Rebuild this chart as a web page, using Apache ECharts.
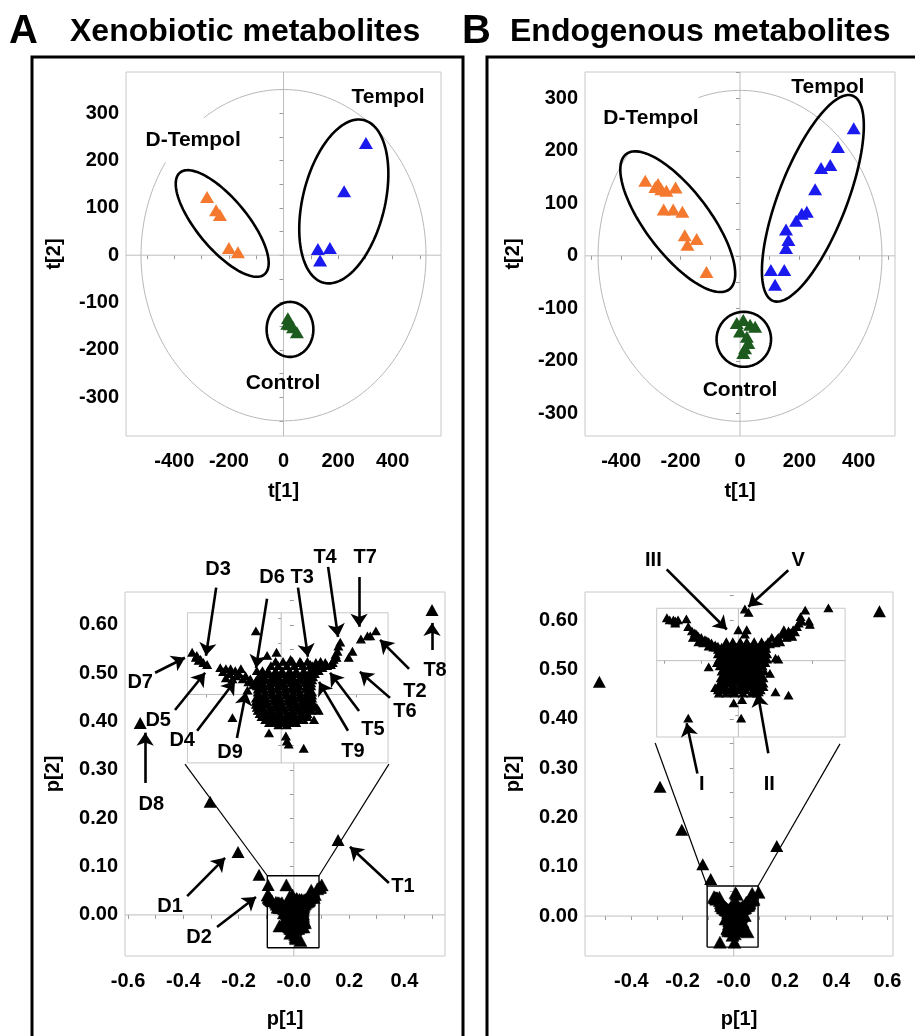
<!DOCTYPE html>
<html><head><meta charset="utf-8">
<script src="https://cdn.jsdelivr.net/npm/echarts@6/dist/echarts.min.js"></script>
<style>html,body{margin:0;padding:0;background:#fff}#c{width:915px;height:1036px}</style>
</head><body><div id="c"></div>
<script>
// ---------------- DATA ----------------
// Scores plots (t[1], t[2])
const SCORES_A_DTEMPOL = [[-280,123],[-247,95],[-233,85],[-200,15],[-167,6]];
const SCORES_A_TEMPOL  = [[302,237],[222,135],[126,13],[170,15],[134,-11]];
const SCORES_A_CONTROL = [[16,-133],[14,-145],[24,-146],[35,-152],[49,-163]];
const SCORES_B_DTEMPOL = [[-319,143],[-285,131],[-276,137],[-265,127],[-248,124],[-217,130],[-257,88],[-225,88],[-194,84],[-186,39],[-146,32],[-177,21],[-113,-31]];
const SCORES_B_TEMPOL  = [[383,243],[330,207],[304,173],[273,167],[253,127],[225,84],[208,80],[189,67],[155,50],[163,30],[155,15],[104,-27],[149,-27],[118,-55]];
const SCORES_B_CONTROL = [[-11,-128],[11,-122],[34,-131],[51,-135],[0,-144],[23,-154],[28,-166],[17,-176],[11,-185]];

// Loadings plots (p[1], p[2]) : outlying variables
const LOAD_A_OUTLIERS = [[-0.556,0.397],[0.500,0.631],[-0.303,0.234],[-0.202,0.130],[-0.126,0.083],[-0.093,0.062],[0.160,0.155]];
const LOAD_B_OUTLIERS = [[-0.525,0.475],[0.569,0.618],[-0.288,0.262],[-0.203,0.175],[-0.121,0.105],[-0.090,0.075],[0.168,0.142]];

// Loadings plots : central cluster (shown both in the main plot and magnified in the inset)
const LOAD_A_CLUSTER = [
[-0.006,0.032],[0.002,0.032],[0.012,0.032],[0.020,0.032],[0.028,0.032],
[-0.011,0.028],[-0.003,0.028],[0.006,0.028],[0.014,0.028],[0.023,0.028],[0.033,0.028],
[-0.020,0.023],[-0.014,0.023],[-0.006,0.023],[0.001,0.023],[0.009,0.023],[0.016,0.023],[0.024,0.023],[0.031,0.023],[0.040,0.023],
[-0.022,0.020],[-0.014,0.020],[-0.007,0.020],[0.001,0.020],[0.008,0.020],[0.016,0.020],[0.023,0.020],[0.031,0.020],[0.036,0.020],
[-0.024,0.017],[-0.018,0.017],[-0.010,0.017],[-0.003,0.017],[0.005,0.017],[0.012,0.017],[0.020,0.017],[0.027,0.017],[0.034,0.017],
[-0.025,0.014],[-0.017,0.014],[-0.010,0.014],[-0.002,0.014],[0.005,0.014],[0.013,0.014],[0.020,0.014],[0.028,0.014],[0.033,0.014],
[-0.026,0.011],[-0.020,0.011],[-0.012,0.011],[-0.005,0.011],[0.002,0.011],[0.010,0.011],[0.017,0.011],[0.025,0.011],[0.032,0.011],
[-0.026,0.008],[-0.018,0.008],[-0.011,0.008],[-0.003,0.008],[0.004,0.008],[0.012,0.008],[0.019,0.008],[0.027,0.008],[0.032,0.008],
[-0.025,0.005],[-0.019,0.005],[-0.011,0.005],[-0.004,0.005],[0.004,0.005],[0.011,0.005],[0.018,0.005],[0.026,0.005],[0.031,0.005],
[-0.025,0.002],[-0.017,0.002],[-0.010,0.002],[-0.002,0.002],[0.005,0.002],[0.013,0.002],[0.020,0.002],[0.028,0.002],[0.033,0.002],
[-0.024,-0.001],[-0.018,-0.001],[-0.010,-0.001],[-0.003,-0.001],[0.005,-0.001],[0.012,-0.001],[0.020,-0.001],[0.027,-0.001],[0.033,-0.001],
[-0.027,-0.004],[-0.023,-0.004],[-0.016,-0.004],[-0.008,-0.004],[-0.001,-0.004],[0.007,-0.004],[0.014,-0.004],[0.021,-0.004],[0.027,-0.004],[0.033,-0.004],
[-0.027,-0.007],[-0.022,-0.007],[-0.016,-0.007],[-0.008,-0.007],[-0.001,-0.007],[0.007,-0.007],[0.014,-0.007],[0.022,-0.007],[0.027,-0.007],[0.033,-0.007],
[-0.027,-0.010],[-0.021,-0.010],[-0.014,-0.010],[-0.006,-0.010],[0.001,-0.010],[0.009,-0.010],[0.016,-0.010],[0.023,-0.010],[0.030,-0.010],[0.034,-0.010],
[-0.026,-0.013],[-0.020,-0.013],[-0.012,-0.013],[-0.005,-0.013],[0.002,-0.013],[0.010,-0.013],[0.017,-0.013],[0.024,-0.013],
[-0.025,-0.016],[-0.018,-0.016],[-0.011,-0.016],[-0.003,-0.016],[0.004,-0.016],[0.012,-0.016],[0.019,-0.016],[0.026,-0.016],[0.032,-0.016],
[-0.023,-0.019],[-0.017,-0.019],[-0.009,-0.019],[-0.002,-0.019],[0.006,-0.019],[0.013,-0.019],[0.021,-0.019],[0.028,-0.019],
[-0.021,-0.022],[-0.014,-0.022],[-0.007,-0.022],[0.000,-0.022],[0.008,-0.022],[0.015,-0.022],[0.022,-0.022],[0.028,-0.022],
[-0.017,-0.025],[-0.011,-0.025],[-0.004,-0.025],[0.004,-0.025],[0.011,-0.025],[0.018,-0.025],[0.024,-0.025],
[-0.013,-0.028],[-0.007,-0.028],[0.001,-0.028],[0.009,-0.028],[0.016,-0.028],[-0.003,-0.030],[0.006,-0.030],
[-0.095,0.041],[-0.091,0.036],[-0.090,0.038],[-0.088,0.033],[-0.086,0.034],[-0.083,0.031],[-0.079,0.029],
[-0.065,0.026],[-0.059,0.025],[-0.054,0.025],[-0.049,0.023],[-0.043,0.025],[-0.045,0.020],[-0.038,0.018],[-0.033,0.015],[-0.027,0.013],[-0.022,0.010],[-0.059,0.016],[-0.052,0.015],[-0.036,0.004],
[-0.062,0.022],[-0.055,0.020],[-0.048,0.018],[-0.041,0.015],[-0.035,0.012],[-0.030,0.009],
[-0.026,0.023],[-0.015,0.038],[-0.005,0.041],[-0.027,0.062],[0.010,0.034],[0.021,0.031],
[0.031,0.029],[0.037,0.031],[0.042,0.032],[0.047,0.031],[0.053,0.029],[0.056,0.034],[0.058,0.039],[0.060,0.042],[0.061,0.047],[0.063,0.051],[0.038,0.026],[0.044,0.026],
[0.035,0.026],[0.041,0.029],[0.049,0.028],[0.055,0.031],[0.059,0.036],
[0.072,0.036],[0.076,0.042],[0.085,0.054],[0.092,0.057],[0.095,0.057],[0.101,0.062],
[0.031,-0.013],[0.035,-0.025],[0.038,-0.013],[0.040,-0.016],[0.005,-0.041],[0.006,-0.046],[0.008,-0.049],[0.024,-0.053],[-0.013,-0.038],[-0.019,-0.016],[-0.052,-0.023]
];
const LOAD_B_CLUSTER = [
[-0.013,0.017],[-0.006,0.017],[0.002,0.017],[0.009,0.017],[0.017,0.017],[0.025,0.017],
[-0.014,0.0145],[-0.006,0.0145],[0.001,0.0145],[0.009,0.0145],[0.016,0.0145],[0.024,0.0145],
[-0.018,0.012],[-0.010,0.012],[-0.002,0.012],[0.005,0.012],[0.013,0.012],[0.020,0.012],[0.028,0.012],
[-0.018,0.009],[-0.010,0.009],[-0.003,0.009],[0.005,0.009],[0.012,0.009],[0.020,0.009],[0.027,0.009],
[-0.022,0.006],[-0.014,0.006],[-0.007,0.006],[0.001,0.006],[0.008,0.006],[0.016,0.006],[0.023,0.006],[0.031,0.006],
[-0.018,0.0035],[-0.010,0.0035],[-0.003,0.0035],[0.005,0.0035],[0.012,0.0035],[0.020,0.0035],[0.028,0.0035],
[-0.021,0.001],[-0.013,0.001],[-0.006,0.001],[0.002,0.001],[0.009,0.001],[0.017,0.001],[0.025,0.001],[0.031,0.001],
[-0.016,-0.002],[-0.009,-0.002],[-0.001,-0.002],[0.006,-0.002],[0.014,-0.002],[0.022,-0.002],[0.029,-0.002],
[-0.020,-0.005],[-0.012,-0.005],[-0.005,-0.005],[0.003,-0.005],[0.010,-0.005],[0.018,-0.005],[0.026,-0.005],
[-0.016,-0.0075],[-0.008,-0.0075],[-0.001,-0.0075],[0.007,-0.0075],[0.014,-0.0075],[0.022,-0.0075],
[-0.018,-0.010],[-0.010,-0.010],[-0.002,-0.010],[0.005,-0.010],[0.013,-0.010],[0.020,-0.010],[0.028,-0.010],
[-0.015,-0.013],[-0.007,-0.013],[0.000,-0.013],[0.008,-0.013],[0.016,-0.013],[0.023,-0.013],
[-0.019,-0.016],[-0.011,-0.016],[-0.004,-0.016],[0.004,-0.016],[0.012,-0.016],[0.019,-0.016],[0.027,-0.016],
[-0.016,-0.0185],[-0.008,-0.0185],[-0.001,-0.0185],[0.007,-0.0185],[0.014,-0.0185],[0.022,-0.0185],
[-0.020,-0.021],[-0.012,-0.021],[-0.005,-0.021],[0.003,-0.021],[0.010,-0.021],[0.018,-0.021],
[-0.022,-0.024],[-0.014,-0.024],[-0.005,-0.024],[0.004,-0.024],[0.012,-0.024],[0.020,-0.024],[0.027,-0.024],
[-0.018,-0.027],[-0.009,-0.027],[0.000,-0.027],[0.008,-0.027],[0.016,-0.027],[0.024,-0.027],
[-0.021,-0.030],[-0.013,-0.030],[-0.004,-0.030],[0.005,-0.030],[0.014,-0.030],[0.020,-0.030],
[-0.077,0.039],[-0.074,0.037],[-0.070,0.037],[-0.068,0.036],[-0.065,0.037],[-0.068,0.034],[-0.056,0.038],
[-0.054,0.031],[-0.050,0.027],[-0.047,0.025],[-0.043,0.022],[-0.040,0.021],[-0.036,0.019],[-0.032,0.017],[-0.029,0.016],[-0.025,0.014],[-0.022,0.013],[-0.018,0.011],[-0.014,0.011],
[-0.049,0.021],[-0.043,0.017],[-0.038,0.016],[-0.032,0.013],[-0.027,0.012],[-0.022,0.010],[-0.016,0.008],
[-0.045,0.024],[-0.041,0.019],[-0.034,0.018],[-0.030,0.014],[-0.024,0.012],[-0.020,0.008],
[0.072,0.046],[0.067,0.040],[0.068,0.036],[0.076,0.036],[0.077,0.033],[0.063,0.031],[0.059,0.028],[0.054,0.027],[0.049,0.028],[0.050,0.024],[0.043,0.021],[0.045,0.017],[0.036,0.021],[0.040,0.016],[0.032,0.017],[0.029,0.014],[0.025,0.013],[0.058,0.022],[0.052,0.021],[0.097,0.048],
[0.047,0.024],[0.041,0.019],[0.034,0.015],[0.030,0.011],[0.061,0.026],[0.065,0.034],[0.056,0.025],
[0.007,0.047],[0.011,0.044],[0.000,0.028],[0.009,0.028],[0.007,0.024],
[-0.032,-0.006],[-0.023,-0.002],[0.034,-0.012],[0.040,0.002],[0.043,0.001],[0.040,-0.029],[0.054,-0.032],[0.025,-0.022],[0.014,-0.024],[-0.005,-0.039],[0.004,-0.036],[0.003,-0.053],[-0.054,-0.053],[-0.022,-0.027],[-0.025,-0.025],[-0.005,-0.029],[0.022,-0.029],[0.027,-0.021]
];

// Tick values / labels
const SC_X_TICKS = [-500,-400,-300,-200,-100,0,100,200,300,400,500];
const SC_X_LABELS = [-400,-200,0,200,400];
const SC_Y_TICKS = [-350,-300,-250,-200,-150,-100,-50,0,50,100,150,200,250,300,350];
const SC_Y_LABELS = [-300,-200,-100,0,100,200,300];
const LA_X_TICKS = [-0.6,-0.5,-0.4,-0.3,-0.2,-0.1,0,0.1,0.2,0.3,0.4,0.5];
const LA_X_LABELS = [-0.6,-0.4,-0.2,0,0.2,0.4];
const LB_X_TICKS = [-0.5,-0.4,-0.3,-0.2,-0.1,0,0.1,0.2,0.3,0.4,0.5,0.6];
const LB_X_LABELS = [-0.4,-0.2,0,0.2,0.4,0.6];
const L_Y_TICKS = [-0.05,0,0.05,0.1,0.15,0.2,0.25,0.3,0.35,0.4,0.45,0.5,0.55,0.6,0.65];
const L_Y_LABELS = [0,0.1,0.2,0.3,0.4,0.5,0.6];
const INSET_X_TICKS = [-0.08,-0.04,0,0.04,0.08];
const INSET_A_Y_TICKS = [-0.05,-0.025,0,0.025,0.05,0.075];
const INSET_B_Y_TICKS = [-0.05,-0.025,0,0.025];

// ---------------- ANNOTATIONS (data coords) ----------------
const SCORE_LABELS_A = [['D-Tempol',-331,243],['Tempol',383,334],['Control',-2,-270]];
const SCORE_LABELS_B = [['D-Tempol',-300,262],['Tempol',296,322],['Control',0,-256]];
// ellipse: [cx, cy, endX, endY, minor/major ratio]
const ELLIPSES_A = [[-224.5,67,-69.6,-40.4,0.38],[220.9,113.5,293.8,285.4,0.49],[23.8,-156.8,23.8,-98.7,0.85]];
const ELLIPSES_B = [[-209.6,65,-36.1,-63.8,0.376],[245.4,109.5,379.5,304.8,0.31],[12.8,-158.9,104.5,-158.9,1.01]];
// Hotelling T2: [cx, cy, rx, ry, gapStartDeg, gapEndDeg]
const HOTELLING_A = [[0,0,522,350,125,146]];
const HOTELLING_B = [[0,0,478,315,108,141]];

const NOTES_A = [
 ['D3',[-0.274,0.714],[-0.281,0.677],[-0.318,0.536]],
 ['D6',[-0.079,0.699],[-0.097,0.654],[-0.137,0.511]],
 ['T3',[0.030,0.699],[0.015,0.677],[0.051,0.534]],
 ['T4',[0.113,0.739],[0.124,0.720],[0.160,0.575]],
 ['T7',[0.258,0.739],[0.236,0.699],[0.236,0.596]],
 ['T8',[0.511,0.505],[0.500,0.548],[0.500,0.604]],
 ['T2',[0.438,0.463],[0.417,0.509],[0.312,0.569]],
 ['T6',[0.402,0.420],[0.348,0.449],[0.239,0.503]],
 ['T5',[0.286,0.383],[0.236,0.422],[0.131,0.501]],
 ['T9',[0.214,0.339],[0.196,0.381],[0.091,0.482]],
 ['D9',[-0.231,0.337],[-0.206,0.366],[-0.173,0.461]],
 ['D4',[-0.404,0.360],[-0.350,0.381],[-0.213,0.484]],
 ['D5',[-0.491,0.403],[-0.430,0.424],[-0.321,0.501]],
 ['D7',[-0.556,0.480],[-0.502,0.501],[-0.394,0.532]],
 ['D8',[-0.516,0.228],[-0.538,0.273],[-0.538,0.377]],
 ['T1',[0.395,0.058],[0.344,0.066],[0.203,0.141]],
 ['D1',[-0.448,0.017],[-0.386,0.039],[-0.249,0.118]],
 ['D2',[-0.343,-0.046],[-0.278,-0.025],[-0.137,0.037]]
];
const NOTES_B = [
 ['III',[-0.314,0.720],[-0.262,0.703],[-0.027,0.581]],
 ['V',[0.252,0.720],[0.213,0.701],[0.057,0.627]],
 ['I',[-0.125,0.266],[-0.142,0.289],[-0.184,0.391]],
 ['II',[0.139,0.266],[0.135,0.330],[0.094,0.451]]
];
// zoom boxes [x0,x1,y0,y1] and inset placement [x0,x1,y0,y1] in main-plot data coords
const BOX_A = [-0.096,0.091,-0.068,0.081];
const BOX_B = [-0.104,0.095,-0.063,0.061];
const INSET_A_RECT = [-0.385,0.341,0.3145,0.625];
const INSET_B_RECT = [-0.301,0.435,0.363,0.624];
const CONNECT_A = [[-0.394,0.312],[0.344,0.312]];
const CONNECT_B = [[-0.307,0.351],[0.415,0.349]];

// ---------------- STYLE HELPERS ----------------
const FONT = '"Liberation Sans", Arial, Helvetica, sans-serif';
const ORANGE = '#f4792f', BLUE = '#1a1aee', GREEN = '#1d5a1d';
const GRID_BORDER = '#c8c8c8', ZERO_LINE = '#bdbdbd';

function valAxis(gi, min, max, ticks, labels, fmt, name, nameGap, isX) {
  return {
    type: 'value', gridIndex: gi, min: min, max: max, scale: true,
    axisLine: {show: false}, splitLine: {show: false},
    axisTick: {show: true, customValues: ticks, length: 4, lineStyle: {color: '#9a9a9a', width: 1}},
    axisLabel: labels ? {show: true, customValues: labels, formatter: fmt, color: '#000', fontFamily: FONT,
      fontWeight: 'bold', fontSize: 20, margin: isX ? 15 : 7} : {show: false},
    name: name || '', nameLocation: 'middle', nameGap: nameGap || 0,
    nameTextStyle: {color: '#000', fontFamily: FONT, fontWeight: 'bold', fontSize: 20}
  };
}
function insetAxis(gi, min, max, ticks) {
  return {type: 'value', gridIndex: gi, min: min, max: max, axisLine: {show: false}, splitLine: {show: false},
    axisTick: {show: true, customValues: ticks, length: 3, lineStyle: {color: '#9a9a9a'}}, axisLabel: {show: false}};
}
function zeroLines(ai, xr, yr, yTop) {
  const st = {color: ZERO_LINE, width: 1};
  return [
    {type: 'line', xAxisIndex: ai, yAxisIndex: ai, data: [[xr[0], 0], [xr[1], 0]], symbol: 'none', lineStyle: st, silent: true, z: 1, animation: false},
    {type: 'line', xAxisIndex: ai, yAxisIndex: ai, data: [[0, yr[0]], [0, yTop === undefined ? yr[1] : yTop]], symbol: 'none', lineStyle: st, silent: true, z: 1, animation: false}
  ];
}
function hotellingRender(params, api) {
  const cx = api.value(0), cy = api.value(1), rx = api.value(2), ry = api.value(3), g0 = api.value(4), g1 = api.value(5);
  const pts = [];
  for (let d = g1; d <= g0 + 360; d += 2) {
    const t = d * Math.PI / 180;
    pts.push(api.coord([cx + rx * Math.cos(t), cy + ry * Math.sin(t)]));
  }
  return {type: 'polyline', shape: {points: pts}, style: {stroke: '#b8b8b8', lineWidth: 1, fill: null}};
}
function ellipseRender(params, api) {
  const c = api.coord([api.value(0), api.value(1)]);
  const p = api.coord([api.value(2), api.value(3)]);
  const r = api.value(4);
  const ux = p[0] - c[0], uy = p[1] - c[1];
  const vx = -uy * r, vy = ux * r;
  const pts = [];
  for (let d = 0; d < 360; d += 3) {
    const t = d * Math.PI / 180;
    pts.push([c[0] + ux * Math.cos(t) + vx * Math.sin(t), c[1] + uy * Math.cos(t) + vy * Math.sin(t)]);
  }
  return {type: 'polygon', shape: {points: pts}, style: {fill: 'none', stroke: '#000', lineWidth: 2.6}};
}
function customSeries(ai, data, render, dims) {
  return {type: 'custom', xAxisIndex: ai, yAxisIndex: ai, data: data, renderItem: render, silent: true, z: 2, animation: false,
    dimensions: dims, encode: {x: 0, y: 1}, clip: false};
}
function pts(ai, data, color, size, border) {
  return {type: 'scatter', xAxisIndex: ai, yAxisIndex: ai, data: data, symbol: 'triangle', symbolSize: size,
    itemStyle: {color: color, opacity: 1, borderColor: color, borderWidth: border || 0},
    silent: true, z: 3, animation: false, clip: false, emphasis: {disabled: true}};
}
function textSeries(ai, items, size) {
  return {type: 'scatter', xAxisIndex: ai, yAxisIndex: ai, symbolSize: 1, itemStyle: {color: 'rgba(0,0,0,0)', opacity: 1},
    clip: false, silent: true, z: 6, animation: false, emphasis: {disabled: true},
    data: items.map(function (it) { return {name: it[0], value: [it[1], it[2]]}; }),
    label: {show: true, position: 'inside', formatter: '{b}', color: '#000', opacity: 1, textBorderWidth: 0,
      fontFamily: FONT, fontWeight: 'bold', fontSize: size}};
}
function arrowSeries(ai, notes) {
  return {type: 'lines', coordinateSystem: 'cartesian2d', xAxisIndex: ai, yAxisIndex: ai, clip: false,
    symbol: ['none', 'arrow'], symbolSize: 13, silent: true, z: 5, animation: false,
    lineStyle: {color: '#000', width: 2.6, opacity: 1, curveness: 0},
    data: notes.map(function (n) { return {coords: [n[2], n[3]]}; })};
}
function boxSeries(ai, b, conn) {
  return [
    {type: 'line', xAxisIndex: ai, yAxisIndex: ai, symbol: 'none', silent: true, z: 4, animation: false, clip: false,
      lineStyle: {color: '#000', width: 1.4},
      data: [[b[0], b[2]], [b[1], b[2]], [b[1], b[3]], [b[0], b[3]], [b[0], b[2]]]},
    {type: 'line', xAxisIndex: ai, yAxisIndex: ai, symbol: 'none', silent: true, z: 4, animation: false, clip: false,
      lineStyle: {color: '#000', width: 1.2}, data: [[b[0], b[3]], conn[0]]},
    {type: 'line', xAxisIndex: ai, yAxisIndex: ai, symbol: 'none', silent: true, z: 4, animation: false, clip: false,
      lineStyle: {color: '#000', width: 1.2}, data: [[b[1], b[3]], conn[1]]}
  ];
}
const scFmt = function (v) { return String(Math.round(v)); };
const lxFmt = function (v) { return Math.abs(v) < 1e-9 ? '-0.0' : v.toFixed(1); };
const lyFmt = function (v) { return v.toFixed(2); };

// axis ranges
const SA_X = [-577, 577], SA_Y = [-382, 387];
const SB_X = [-522, 522], SB_Y = [-343, 350];
const LA_X = [-0.611, 0.547], LA_Y = [-0.085, 0.668];
const LB_X = [-0.581, 0.622], LB_Y = [-0.081, 0.657];
const IA_X = [-0.100, 0.114], IA_Y = [-0.067, 0.080];
const IB_X = [-0.088, 0.115], IB_Y = [-0.070, 0.048];

const gridStyle = {show: true, borderColor: GRID_BORDER, borderWidth: 1, backgroundColor: '#fff', containLabel: false};
const option = {
  animation: false,
  backgroundColor: '#fff',
  textStyle: {fontFamily: FONT},
  grid: [
    Object.assign({left: 126, top: 72, width: 315, height: 364}, gridStyle),
    Object.assign({left: 585, top: 72, width: 310, height: 364}, gridStyle),
    Object.assign({left: 125, top: 592, width: 320, height: 364}, gridStyle),
    Object.assign({left: 585, top: 592, width: 308, height: 364}, gridStyle),
    Object.assign({left: 187, top: 613, width: 201, height: 150}, gridStyle),
    Object.assign({left: 657, top: 608, width: 188, height: 129}, gridStyle)
  ],
  xAxis: [
    valAxis(0, SA_X[0], SA_X[1], SC_X_TICKS, SC_X_LABELS, scFmt, 't[1]', 45, true),
    valAxis(1, SB_X[0], SB_X[1], SC_X_TICKS, SC_X_LABELS, scFmt, 't[1]', 45, true),
    valAxis(2, LA_X[0], LA_X[1], LA_X_TICKS, LA_X_LABELS, lxFmt, 'p[1]', 53, true),
    valAxis(3, LB_X[0], LB_X[1], LB_X_TICKS, LB_X_LABELS, lxFmt, 'p[1]', 53, true),
    insetAxis(4, IA_X[0], IA_X[1], INSET_X_TICKS),
    insetAxis(5, IB_X[0], IB_X[1], INSET_X_TICKS)
  ],
  yAxis: [
    valAxis(0, SA_Y[0], SA_Y[1], SC_Y_TICKS, SC_Y_LABELS, scFmt, 't[2]', 62, false),
    valAxis(1, SB_Y[0], SB_Y[1], SC_Y_TICKS, SC_Y_LABELS, scFmt, 't[2]', 62, false),
    valAxis(2, LA_Y[0], LA_Y[1], L_Y_TICKS, L_Y_LABELS, lyFmt, 'p[2]', 62, false),
    valAxis(3, LB_Y[0], LB_Y[1], L_Y_TICKS, L_Y_LABELS, lyFmt, 'p[2]', 62, false),
    insetAxis(4, IA_Y[0], IA_Y[1], INSET_A_Y_TICKS),
    insetAxis(5, IB_Y[0], IB_Y[1], INSET_B_Y_TICKS)
  ],
  graphic: [
    {type: 'rect', shape: {x: 32, y: 57, width: 431, height: 1010}, style: {fill: 'none', stroke: '#000', lineWidth: 3}, z: 0, silent: true},
    {type: 'rect', shape: {x: 487, y: 57, width: 440, height: 1010}, style: {fill: 'none', stroke: '#000', lineWidth: 3}, z: 0, silent: true},
    {type: 'text', x: 9, y: 32, style: {text: 'A', font: 'bold 40px ' + FONT, fill: '#000', verticalAlign: 'middle'}, silent: true},
    {type: 'text', x: 70, y: 32, style: {text: 'Xenobiotic metabolites', font: 'bold 32px ' + FONT, fill: '#000', verticalAlign: 'middle'}, silent: true},
    {type: 'text', x: 462, y: 32, style: {text: 'B', font: 'bold 40px ' + FONT, fill: '#000', verticalAlign: 'middle'}, silent: true},
    {type: 'text', x: 510, y: 32, style: {text: 'Endogenous metabolites', font: 'bold 32px ' + FONT, fill: '#000', verticalAlign: 'middle'}, silent: true}
  ],
  series: [].concat(
    // ---- A scores
    zeroLines(0, SA_X, SA_Y),
    [customSeries(0, HOTELLING_A, hotellingRender, ['cx','cy','rx','ry','g0','g1']),
     customSeries(0, ELLIPSES_A, ellipseRender, ['cx','cy','ex','ey','r']),
     pts(0, SCORES_A_DTEMPOL, ORANGE, [14, 12]),
     pts(0, SCORES_A_TEMPOL, BLUE, [14, 12]),
     pts(0, SCORES_A_CONTROL, GREEN, [14, 12]),
     textSeries(0, SCORE_LABELS_A, 21)],
    // ---- B scores
    zeroLines(1, SB_X, SB_Y),
    [customSeries(1, HOTELLING_B, hotellingRender, ['cx','cy','rx','ry','g0','g1']),
     customSeries(1, ELLIPSES_B, ellipseRender, ['cx','cy','ex','ey','r']),
     pts(1, SCORES_B_DTEMPOL, ORANGE, [14, 12]),
     pts(1, SCORES_B_TEMPOL, BLUE, [14, 12]),
     pts(1, SCORES_B_CONTROL, GREEN, [14, 12]),
     textSeries(1, SCORE_LABELS_B, 21)],
    // ---- A loadings
    zeroLines(2, LA_X, LA_Y, INSET_A_RECT[2]),
    [pts(2, LOAD_A_CLUSTER, '#000', [13, 12], 0.5), pts(2, LOAD_A_OUTLIERS, '#000', [13, 12])],
    boxSeries(2, BOX_A, CONNECT_A),
    [arrowSeries(2, NOTES_A), textSeries(2, NOTES_A.map(function (n) { return [n[0], n[1][0], n[1][1]]; }), 20)],
    // ---- B loadings
    zeroLines(3, LB_X, LB_Y, INSET_B_RECT[2]),
    [pts(3, LOAD_B_CLUSTER, '#000', [13, 12], 0.5), pts(3, LOAD_B_OUTLIERS, '#000', [13, 12])],
    boxSeries(3, BOX_B, CONNECT_B),
    [arrowSeries(3, NOTES_B), textSeries(3, NOTES_B.map(function (n) { return [n[0], n[1][0], n[1][1]]; }), 20)],
    // ---- insets
    zeroLines(4, IA_X, IA_Y),
    [pts(4, LOAD_A_CLUSTER, '#000', [8, 7], 1.2)],
    zeroLines(5, IB_X, IB_Y),
    [pts(5, LOAD_B_CLUSTER, '#000', [8, 7], 1.2)]
  )
};
// inset series must clip to inset
option.series.forEach(function (s) { if (s.xAxisIndex >= 4) s.clip = true; });

const chart = echarts.init(document.getElementById('c'), null, {renderer: 'canvas'});
chart.setOption(option);

function insetRect(gi, r) {
  const tl = chart.convertToPixel({gridIndex: gi}, [r[0], r[3]]);
  const br = chart.convertToPixel({gridIndex: gi}, [r[1], r[2]]);
  return {left: tl[0], top: tl[1], width: br[0] - tl[0], height: br[1] - tl[1]};
}
chart.setOption({grid: [{}, {}, {}, {}, insetRect(2, INSET_A_RECT), insetRect(3, INSET_B_RECT)]});
</script></body></html>
